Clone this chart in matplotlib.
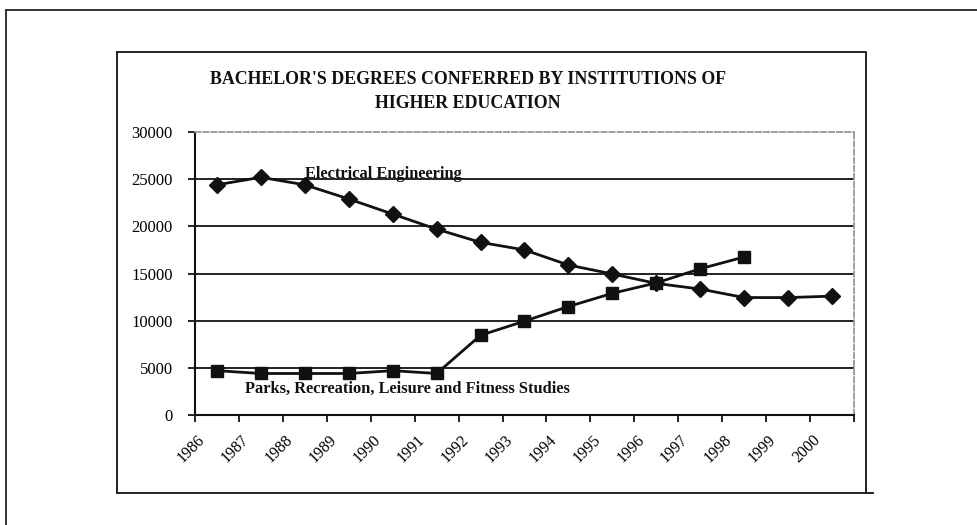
import matplotlib
matplotlib.use("Agg")
import matplotlib.pyplot as plt
from matplotlib.lines import Line2D
import matplotlib.transforms as mtransforms
import numpy as np

years = ["1986", "1987", "1988", "1989", "1990", "1991", "1992", "1993",
         "1994", "1995", "1996", "1997", "1998", "1999", "2000"]
electrical_engineering = [24400, 25200, 24400, 22900, 21300, 19700, 18300, 17500,
                          15900, 14950, 13950, 13350, 12450, 12450, 12600]
parks_recreation = [4700, 4400, 4400, 4400, 4700, 4400, 8450, 9950,
                    11500, 12900, 14000, 15500, 16750, np.nan, np.nan]
yticks = [0, 5000, 10000, 15000, 20000, 25000, 30000]

plt.rcParams['font.family'] = ['Liberation Serif', 'DejaVu Serif']

W, H = 978, 525
fig = plt.figure(figsize=(W / 100, H / 100), dpi=100)

def fx(x):
    return x / W

def fy(y):
    return 1 - y / H

# outer frame lines
fig.add_artist(Line2D([fx(6), fx(978)], [fy(10), fy(10)], color='#333333', lw=1.4))
fig.add_artist(Line2D([fx(6), fx(6)], [fy(10), fy(525)], color='#333333', lw=1.4))
# inner chart box
fig.add_artist(Line2D([fx(117), fx(866), fx(866)], [fy(52), fy(52), fy(493)], color='#222222', lw=1.4))
fig.add_artist(Line2D([fx(117), fx(117)], [fy(52), fy(493)], color='#222222', lw=1.4))
fig.add_artist(Line2D([fx(117), fx(873)], [fy(493), fy(493)], color='#222222', lw=1.4))

ax = fig.add_axes([fx(195), fy(415), fx(854) - fx(195), fy(132) - fy(415)])

n = len(years)
xs = np.arange(n) + 0.5

ax.set_xlim(0, n)
ax.set_ylim(0, 30000)

for v in yticks[1:-1]:
    ax.axhline(v, color='#111111', lw=1.3, zorder=1)

ax.plot(xs, electrical_engineering, color='#111111', lw=2.0, marker='D', ms=8.5,
        zorder=3)
ax.plot(xs, parks_recreation, color='#111111', lw=2.0, marker='s', ms=8,
        zorder=3)

for s in ['top', 'right']:
    ax.spines[s].set_color('#999999')
    ax.spines[s].set_linestyle((0, (3, 1.5)))
    ax.spines[s].set_linewidth(1.3)
for s in ['left', 'bottom']:
    ax.spines[s].set_color('#111111')
    ax.spines[s].set_linewidth(1.5)

ax.set_yticks(yticks)
ax.set_yticklabels([str(v) for v in yticks], fontsize=12)
ax.tick_params(axis='y', direction='out', length=5, width=1.2, pad=11)

ax.set_xticks(np.arange(n + 1))
ax.set_xticklabels([])
ax.set_xticks(xs, minor=True)
ax.set_xticklabels(years, minor=True, rotation=45, ha='right', va='top',
                   rotation_mode='anchor', fontsize=11.5)
ax.tick_params(axis='x', which='major', direction='out', length=5, width=1.2)
ax.tick_params(axis='x', which='minor', length=0, pad=12)
offset = mtransforms.ScaledTranslation(-20 / 100, 0, fig.dpi_scale_trans)
for lab in ax.get_xticklabels(minor=True):
    lab.set_transform(lab.get_transform() + offset)

ax.text(2.5, 25600, "Electrical Engineering", fontsize=11.8, fontweight='bold',
        ha='left', va='center', color='#111111')
ax.text(1.14, 2800, "Parks, Recreation, Leisure and Fitness Studies", fontsize=11.8,
        fontweight='bold', ha='left', va='center', color='#111111')

fig.text(fx(468), fy(80), "BACHELOR'S DEGREES CONFERRED BY INSTITUTIONS OF",
         fontsize=12.9, fontweight='bold', ha='center', va='center', color='#111111')
fig.text(fx(468), fy(104), "HIGHER EDUCATION",
         fontsize=12.9, fontweight='bold', ha='center', va='center', color='#111111')

fig.savefig("out.png", dpi=100)
